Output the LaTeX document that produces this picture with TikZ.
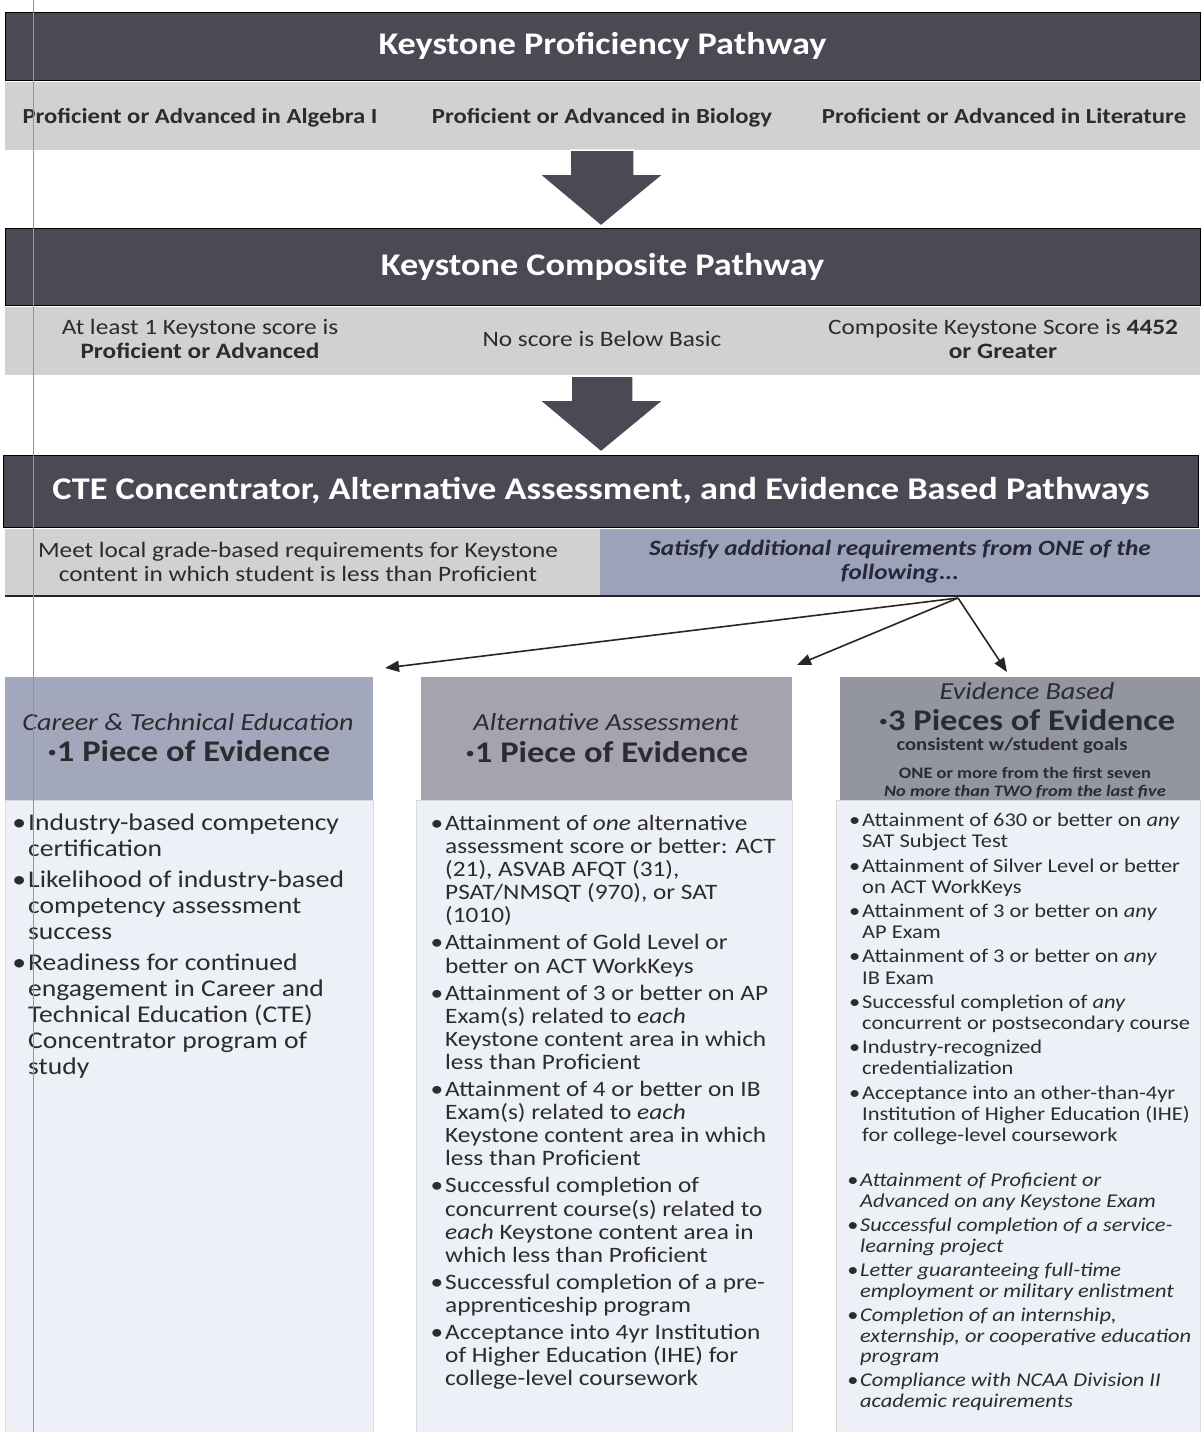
\documentclass[tikz,border=0pt]{standalone}
\usepackage{fontspec}
\setmainfont{Carlito}[FakeStretch=1.15]
\usetikzlibrary{arrows.meta}
\definecolor{bandD}{HTML}{4A4A54}
\definecolor{bandL}{HTML}{D1D1D1}
\definecolor{bandB}{HTML}{9CA2B9}
\definecolor{hdrA}{HTML}{A2A7BC}
\definecolor{hdrB}{HTML}{A3A4AE}
\definecolor{hdrC}{HTML}{94969F}
\definecolor{bodyC}{HTML}{EEF0F8}
\definecolor{txtD}{HTML}{2B2B30}
\definecolor{txtN}{HTML}{262838}
\definecolor{marginC}{HTML}{8C8CE0}
\newcommand\fs[2]{\fontsize{#1}{#2}\selectfont}
\newcommand\bul{\llap{•\kern2pt}}
\tikzset{
  darkband/.style={fill=bandD, draw=black, line width=1pt, inner sep=0, text=white, font=\fs{31.5}{36}\bfseries},
  lightband/.style={fill=bandL, draw=none, inner sep=0},
  bigarrow/.style={fill=bandD, draw=white, line width=1.5pt},
  lighttxt/.style={text=txtD, align=center, inner sep=0},
  onerow/.style={text height=15pt, text depth=5pt},
  hdrbox/.style={draw=none, inner sep=0},
  bodybox/.style={fill=bodyC, draw=black!15, line width=0.6pt, inner sep=0},
  hdrtxt/.style={text=txtD, align=center, inner sep=0},
  bodytxt/.style={align=left, anchor=north west, inner sep=0, text=txtD},
  link/.style={draw=black!85, line width=1.6pt, -{Triangle[length=14pt,width=11pt]}}
}
\begin{document}
\begin{tikzpicture}[x=1pt,y=-1pt]
\useasboundingbox[fill=white] (0,0) rectangle (1200,1432);

% Band 1
\node[darkband, minimum width=1195pt, minimum height=68pt] (kp) at (602.5,46) {Keystone Proficiency Pathway};
\node[lightband, minimum width=1195pt, minimum height=68pt] (kpL) at (602.5,116) {};
\node[lighttxt, onerow, font=\fs{21.5}{24}\bfseries] (kp1) at (200,118) {Proficient or Advanced in Algebra I};
\node[lighttxt, onerow, font=\fs{21.5}{24}\bfseries] (kp2) at (602,118) {Proficient or Advanced in Biology};
\node[lighttxt, onerow, font=\fs{21.5}{24}\bfseries] (kp3) at (1004,118) {Proficient or Advanced in Literature};

% Arrow 1
\filldraw[bigarrow] (570,150) -- (634,150) -- (634,174) -- (664,174) -- (601,226) -- (539,174) -- (570,174) -- cycle;

% Band 2
\node[darkband, minimum width=1195pt, minimum height=77pt] (kc) at (602.5,266.5) {Keystone Composite Pathway};
\node[lightband, minimum width=1195pt, minimum height=68pt] (kcL) at (602.5,341) {};
\node[lighttxt, font=\fs{22}{24}] (kc1) at (200,339) {At least 1 Keystone score is\\\textbf{Proficient or Advanced}};
\node[lighttxt, onerow, font=\fs{22}{24}] (kc2) at (602,341) {No score is Below Basic};
\node[lighttxt, font=\fs{22}{24}] (kc3) at (1003,339) {Composite Keystone Score is \textbf{4452}\\\textbf{or Greater}};

% Arrow 2
\filldraw[bigarrow] (571,376) -- (633,376) -- (633,400) -- (664,400) -- (601,452) -- (539,400) -- (571,400) -- cycle;

% Band 3
\node[darkband, minimum width=1195pt, minimum height=72pt, font=\fs{31.6}{36}\bfseries] (ct) at (601,491) {CTE Concentrator, Alternative Assessment, and Evidence Based Pathways};
\node[lightband, minimum width=595pt, minimum height=67pt] (ctL) at (302.5,562.5) {};
\node[lightband, fill=bandB, minimum width=600pt, minimum height=67pt] (ctR) at (900,562.5) {};
\draw[line width=1.5pt, black!85] (ctL.south west) -- (ctR.south east);
\node[lighttxt, font=\fs{22}{24}] (ct1) at (298,562) {Meet local grade-based requirements for Keystone\\content in which student is less than Proficient};
\node[lighttxt, text=txtN, font=\fs{21.9}{24}\bfseries\itshape] (ct2) at (900,562) {Satisfy additional requirements from ONE of the\\following...};

% Links
\coordinate (src) at (958,598);
\coordinate (t1) at (385,668);
\coordinate (t2) at (797,665);
\coordinate (t3) at (1007,672);
\draw[link] (src) -- (t1);
\draw[link] (src) -- (t2);
\draw[link] (src) -- (t3);

% Column boxes
\node[bodybox, minimum width=368pt, minimum height=632pt] (b1) at (189,1116) {};
\node[bodybox, minimum width=376pt, minimum height=632pt] (b2) at (604,1116) {};
\node[bodybox, minimum width=364pt, minimum height=632pt] (b3) at (1018,1116) {};
\node[hdrbox, fill=hdrA, minimum width=368pt, minimum height=123pt] (h1) at (189,738.5) {};
\node[hdrbox, fill=hdrB, minimum width=371pt, minimum height=123pt] (h2) at (606.5,738.5) {};
\node[hdrbox, fill=hdrC, minimum width=360pt, minimum height=123pt] (h3) at (1020,738.5) {};

% Header texts
\node[hdrtxt, font=\fs{24.5}{28}\itshape] (h1a) at (188,722) {Career \& Technical Education};
\node[hdrtxt, font=\fs{30}{34}\bfseries] (h1b) at (189,751) {·1 Piece of Evidence};
\node[hdrtxt, font=\fs{24.5}{28}\itshape] (h2a) at (606,722) {Alternative Assessment};
\node[hdrtxt, font=\fs{30}{34}\bfseries] (h2b) at (607,752) {·1 Piece of Evidence};
\node[hdrtxt, font=\fs{24.5}{28}\itshape] (h3a) at (1027,691) {Evidence Based};
\node[hdrtxt, font=\fs{30}{34}\bfseries] (h3b) at (1027,720) {·3 Pieces of Evidence};
\node[hdrtxt, font=\fs{18}{22}\bfseries] (h3c) at (1012,746) {consistent w/student goals};
\node[hdrtxt, font=\fs{16}{19}\bfseries] (h3d) at (1025,773) {ONE or more from the first seven};
\node[hdrtxt, font=\fs{16}{19}\bfseries\itshape] (h3e) at (1025,792) {No more than TWO from the last five};

% Column 1 body
\node[bodytxt, font=\fs{24}{26}] (c1) at (28,814) {%
\bul Industry-based competency\\
certification\\[5pt]
\bul Likelihood of industry-based\\
competency assessment\\
success\\[5pt]
\bul Readiness for continued\\
engagement in Career and\\
Technical Education (CTE)\\
Concentrator program of\\
study};

% Column 2 body
\node[bodytxt, font=\fs{22}{23.1}] (c2) at (445,815) {%
\bul Attainment of \textit{one} alternative\\
assessment score or better: ACT\\
(21), ASVAB AFQT (31),\\
PSAT/NMSQT (970), or SAT\\
(1010)\\[4pt]
\bul Attainment of Gold Level or\\
better on ACT WorkKeys\\[4pt]
\bul Attainment of 3 or better on AP\\
Exam(s) related to \textit{each}\\
Keystone content area in which\\
less than Proficient\\[4pt]
\bul Attainment of 4 or better on IB\\
Exam(s) related to \textit{each}\\
Keystone content area in which\\
less than Proficient\\[4pt]
\bul Successful completion of\\
concurrent course(s) related to\\
\textit{each} Keystone content area in\\
which less than Proficient\\[4pt]
\bul Successful completion of a pre-\\
apprenticeship program\\[4pt]
\bul Acceptance into 4yr Institution\\
of Higher Education (IHE) for\\
college-level coursework};

% Column 3 body
\node[bodytxt, font=\fs{19.5}{21.2}] (c3) at (862,813) {%
\bul Attainment of 630 or better on \textit{any}\\
SAT Subject Test\\[3pt]
\bul Attainment of Silver Level or better\\
on ACT WorkKeys\\[3pt]
\bul Attainment of 3 or better on \textit{any}\\
AP Exam\\[3pt]
\bul Attainment of 3 or better on \textit{any}\\
IB Exam\\[3pt]
\bul Successful completion of \textit{any}\\
concurrent or postsecondary course\\[3pt]
\bul Industry-recognized\\
credentialization\\[3pt]
\bul Acceptance into an other-than-4yr\\
Institution of Higher Education (IHE)\\
for college-level coursework};
\node[bodytxt, font=\fs{19.5}{20.9}\itshape] (c3b) at (860,1173) {%
\bul Attainment of Proficient or\\
Advanced on any Keystone Exam\\[3pt]
\bul Successful completion of a service-\\
learning project\\[3pt]
\bul Letter guaranteeing full-time\\
employment or military enlistment\\[3pt]
\bul Completion of an internship,\\
externship, or cooperative education\\
program\\[3pt]
\bul Compliance with NCAA Division II\\
academic requirements};

% scan margin line
\draw[marginC, line width=0.8pt] (33,0) -- (33,1432);
\end{tikzpicture}
\end{document}
